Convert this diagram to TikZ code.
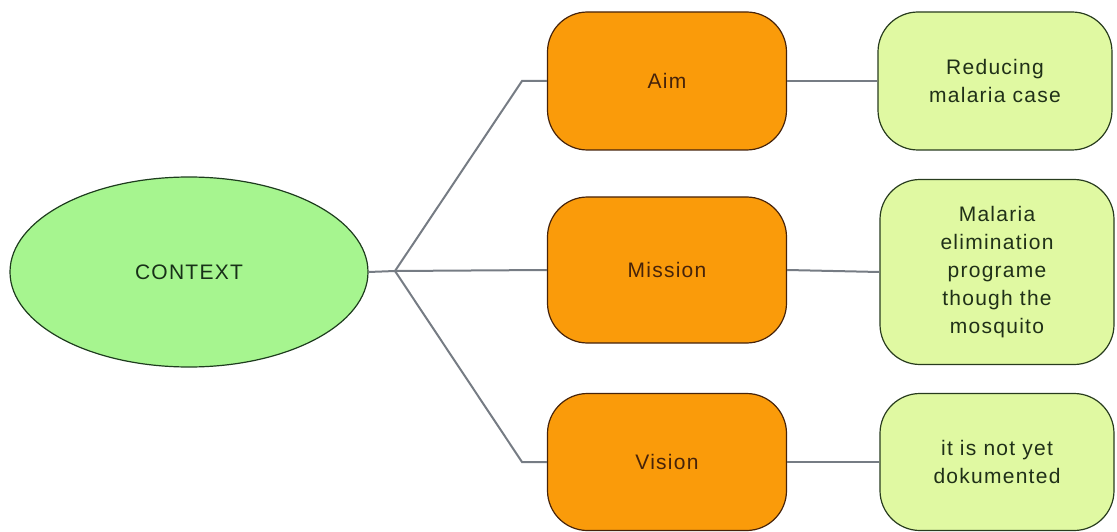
\documentclass[tikz,border=0pt]{standalone}
\usepackage{fontspec}
\setmainfont{Liberation Sans}[LetterSpace=6]
\usetikzlibrary{shapes.geometric}
\definecolor{ctxfill}{RGB}{166,245,143}
\definecolor{ctxline}{RGB}{30,60,30}
\definecolor{orfill}{RGB}{250,155,10}
\definecolor{orline}{RGB}{70,35,10}
\definecolor{lgfill}{RGB}{224,249,162}
\definecolor{lgline}{RGB}{40,60,30}
\definecolor{conn}{RGB}{118,124,132}
\begin{document}
\begin{tikzpicture}[x=1pt,y=1pt,
  txt/.style={font=\fontsize{21}{28}\selectfont, align=center},
  ctx/.style={ellipse, draw=ctxline, line width=1.2pt, fill=ctxfill, minimum width=358pt, minimum height=190pt, inner sep=0pt, txt, text=ctxline!80!black},
  orbox/.style={rectangle, rounded corners=40pt, draw=orline, line width=1.2pt, fill=orfill, minimum width=239pt, inner sep=0pt, txt, text=orline},
  lgbox/.style={rectangle, rounded corners=40pt, draw=lgline, line width=1.2pt, fill=lgfill, minimum width=234pt, inner sep=0pt, txt, text=lgline!80!black},
  link/.style={draw=conn, line width=2pt}]
\useasboundingbox (0,0) rectangle (1117,-532);

\node[ctx] (context) at (189,-272) {CONTEXT};

\node[orbox, minimum height=138pt] (aim) at (667,-81) {Aim};
\node[orbox, minimum height=146pt] (mission) at (667,-270) {Mission};
\node[orbox, minimum height=137pt] (vision) at (667,-462) {Vision};

\node[lgbox, minimum height=138pt] (aimT) at (995,-81) {Reducing\\malaria case};
\node[lgbox, minimum height=185pt] (missionT) at (997,-272) {Malaria\\elimination\\programe\\though the\\mosquito};
\node[lgbox, minimum height=137pt] (visionT) at (997,-462) {it is not yet\\dokumented};

\coordinate (hub) at (395,-271);
\coordinate (upbend) at (522,-81);
\coordinate (downbend) at (522,-462);

\draw[link] (context.east) -- (hub);
\draw[link] (hub) -- (upbend) -- (aim.west);
\draw[link] (hub) -- (mission.west);
\draw[link] (hub) -- (downbend) -- (vision.west);

\draw[link] (aim.east) -- (aimT.west);
\draw[link] (mission.east) -- (missionT.west);
\draw[link] (vision.east) -- (visionT.west);
\end{tikzpicture}
\end{document}
